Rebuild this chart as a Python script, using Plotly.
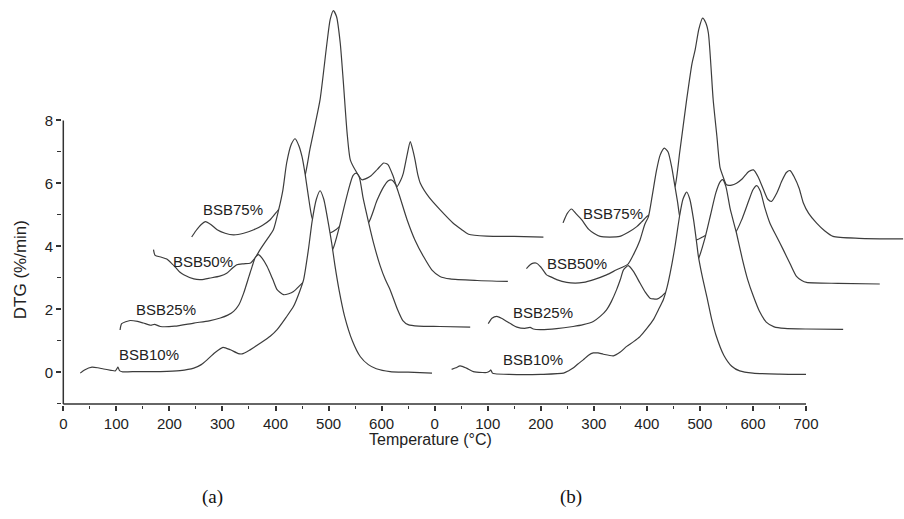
import plotly.graph_objects as go

# ---------------- data (temperature read on the panel axis, DTG in %/min) ----------------
# panel (a)
a10_t = [32, 40, 54, 65, 76, 90, 98, 101, 103, 106, 112, 140, 183, 220, 246, 260, 271, 285, 301, 315,
         330, 337, 350, 371, 390, 403, 420, 434, 445, 453, 462, 469, 477, 484, 491, 500, 506, 512, 520,
         530, 545, 560, 575, 590, 616, 650, 695]
a10_y = [-0.02, 0.08, 0.17, 0.15, 0.11, 0.07, 0.05, 0.12, 0.17, 0.06, 0.02, 0.03, 0.03, 0.06, 0.14, 0.25,
         0.4, 0.62, 0.8, 0.72, 0.6, 0.59, 0.7, 0.93, 1.15, 1.36, 1.75, 2.1, 2.55, 2.95, 3.9, 4.8, 5.5, 5.77,
         5.5, 4.7, 4.1, 3.4, 2.6, 1.8, 1.0, 0.5, 0.25, 0.12, 0.03, 0.01, -0.02]

a25_t = [107, 110, 126, 140, 151, 165, 172, 183, 210, 246, 275, 296, 310, 321, 331, 340, 350, 356, 362,
         368, 375, 384, 395, 403, 415, 425, 434, 447, 460, 475, 490, 500, 509, 520, 530, 540, 546, 552,
         558, 565, 575, 585, 597, 607, 616, 630, 640, 650, 670, 710, 767]
a25_y = [1.35, 1.55, 1.65, 1.62, 1.57, 1.5, 1.53, 1.46, 1.47, 1.57, 1.64, 1.73, 1.82, 1.94, 2.15, 2.52,
         3.05, 3.37, 3.65, 3.74, 3.62, 3.37, 2.95, 2.63, 2.47, 2.5, 2.57, 2.78, 3.0, 3.25, 3.5, 3.7, 3.95,
         4.6, 5.3, 5.95, 6.25, 6.33, 6.2, 5.55, 4.8, 4.1, 3.4, 2.95, 2.63, 2.0, 1.65, 1.52, 1.47, 1.46, 1.44]

a50_t = [170, 173, 185, 195, 205, 211, 220, 227, 246, 260, 277, 295, 308, 318, 327, 340, 352, 362, 371,
         385, 396, 406, 414, 421, 430, 437, 444, 450, 456, 462, 469, 480, 490, 503, 515, 525, 540, 555,
         575, 591, 604, 612, 619, 626, 633, 648, 663, 679, 695, 710, 729, 780, 838]
a50_y = [3.9, 3.72, 3.66, 3.6, 3.45, 3.35, 3.18, 3.1, 2.97, 2.95, 3.0, 3.06, 3.15, 3.3, 3.42, 3.45, 3.47,
         3.65, 3.9, 4.25, 4.53, 5.17, 5.8, 6.65, 7.25, 7.42, 7.2, 6.85, 6.28, 5.59, 4.9, 4.55, 4.4, 4.43,
         4.55, 4.69, 4.65, 4.6, 4.75, 5.45, 5.9, 6.08, 6.11, 5.98, 5.65, 4.85, 4.2, 3.68, 3.25, 3.05, 2.97,
         2.92, 2.89]

a75_t = [242, 250, 260, 268, 278, 290, 305, 321, 340, 359, 375, 390, 406, 420, 440, 456, 465, 475, 484,
         497, 503, 509, 515, 522, 528, 535, 541, 552, 563, 578, 592, 604, 612, 622, 629, 636, 641, 648,
         654, 659, 663, 668, 673, 690, 710, 735, 750, 764, 798, 850, 905]
a75_y = [4.3, 4.5, 4.7, 4.79, 4.7, 4.53, 4.42, 4.37, 4.42, 4.53, 4.67, 4.85, 5.17, 5.35, 5.6, 6.28, 7.1,
         7.9, 8.66, 10.46, 11.2, 11.49, 11.3, 10.46, 9.19, 7.6, 6.75, 6.38, 6.12, 6.22, 6.45, 6.65, 6.6,
         6.22, 5.9, 6.1, 6.33, 6.9, 7.33, 7.05, 6.75, 6.3, 6.01, 5.55, 5.17, 4.74, 4.55, 4.39, 4.33, 4.32,
         4.3]

# panel (b)
b10_t = [32, 40, 48, 60, 73, 90, 98, 104, 106, 109, 114, 140, 167, 200, 243, 252, 261, 270, 280, 290,
         299, 308, 318, 337, 350, 362, 375, 387, 400, 412, 422, 431, 438, 444, 453, 462, 468, 475, 481,
         488, 494, 497, 505, 513, 522, 530, 545, 560, 575, 600, 650, 700]
b10_y = [0.1, 0.15, 0.21, 0.14, 0.03, 0.0, 0.0, 0.05, 0.08, -0.02, -0.04, -0.06, -0.07, -0.06, -0.02,
         0.05, 0.14, 0.27, 0.4, 0.55, 0.62, 0.62, 0.58, 0.53, 0.65, 0.83, 0.98, 1.14, 1.4, 1.67, 2.0, 2.31,
         2.7, 3.16, 4.0, 5.0, 5.5, 5.73, 5.5, 4.85, 4.1, 3.7, 3.0, 2.41, 1.7, 1.2, 0.55, 0.2, 0.05, -0.02,
         -0.05, -0.06]

b25_t = [101, 108, 117, 126, 136, 146, 155, 170, 180, 186, 199, 230, 261, 280, 299, 312, 324, 333, 343,
         350, 356, 365, 375, 387, 397, 406, 419, 428, 434, 450, 470, 485, 497, 510, 520, 530, 538, 543,
         549, 557, 569, 580, 590, 601, 612, 625, 640, 660, 700, 770]
b25_y = [1.55, 1.72, 1.78, 1.72, 1.62, 1.52, 1.44, 1.4, 1.43, 1.38, 1.36, 1.39, 1.46, 1.52, 1.62, 1.78,
         1.99, 2.25, 2.63, 2.95, 3.26, 3.39, 3.2, 2.84, 2.55, 2.36, 2.33, 2.42, 2.52, 2.75, 3.05, 3.3, 3.6,
         4.3, 5.0, 5.7, 6.05, 6.12, 5.9, 5.2, 4.42, 3.6, 2.95, 2.41, 1.95, 1.6, 1.45, 1.4, 1.38, 1.37]

b50_t = [173, 180, 186, 192, 200, 211, 217, 230, 249, 265, 280, 300, 324, 343, 355, 365, 375, 387, 396,
         403, 410, 418, 425, 433, 440, 447, 453, 458, 462, 470, 480, 494, 505, 519, 535, 550, 566, 580,
         592, 600, 607, 614, 622, 632, 645, 657, 670, 682, 692, 701, 760, 839]
b50_y = [3.3, 3.42, 3.47, 3.47, 3.35, 3.1, 3.05, 2.95, 2.86, 2.84, 2.86, 2.95, 3.1, 3.26, 3.35, 3.45,
         3.75, 4.2, 4.7, 4.95, 5.6, 6.4, 6.9, 7.12, 7.0, 6.5, 5.9, 5.4, 4.95, 4.6, 4.35, 4.21, 4.3, 4.42,
         4.4, 4.35, 4.42, 4.9, 5.45, 5.8, 5.93, 5.75, 5.25, 4.74, 4.3, 3.9, 3.45, 3.05, 2.92, 2.86, 2.83,
         2.81]

b75_t = [242, 250, 258, 266, 277, 290, 300, 312, 330, 349, 365, 381, 390, 400, 420, 440, 453, 462, 475,
         485, 491, 498, 505, 511, 516, 525, 532, 538, 544, 550, 560, 569, 580, 592, 601, 610, 620, 628,
         635, 645, 655, 663, 670, 678, 687, 695, 705, 720, 735, 751, 800, 883]
b75_y = [4.75, 5.05, 5.19, 5.05, 4.85, 4.55, 4.42, 4.32, 4.3, 4.32, 4.45, 4.63, 4.78, 4.95, 5.2, 5.5,
         5.9, 7.0, 8.66, 9.8, 10.24, 10.9, 11.25, 11.1, 10.77, 8.66, 7.5, 6.5, 6.2, 5.96, 5.95, 6.01, 6.15,
         6.38, 6.43, 6.2, 5.8, 5.5, 5.43, 5.7, 6.1, 6.35, 6.41, 6.2, 5.85, 5.38, 5.05, 4.74, 4.5, 4.32,
         4.26, 4.24]

series_names = ["BSB10%", "BSB25%", "BSB50%", "BSB75%"]

# shared temperature axis: panel (a) then panel (b)
tick_vals = list(range(0, 1401, 100))
tick_text = ["0", "100", "200", "300", "400", "500", "600",
             "0", "100", "200", "300", "400", "500", "600", "700"]

# ---------------- layout constants ----------------
PANEL_B_SHIFT = 700
LINE_COLOR = "#3c3c3c"
TEXT_COLOR = "#222222"
FONT = "Liberation Sans, Arial, sans-serif"
SERIF = "Liberation Serif, Times New Roman, serif"

fig = go.Figure()

panels = [
    (0, [(a75_t, a75_y), (a50_t, a50_y), (a25_t, a25_y), (a10_t, a10_y)]),
    (PANEL_B_SHIFT, [(b75_t, b75_y), (b50_t, b50_y), (b25_t, b25_y), (b10_t, b10_y)]),
]

# rear curves first; each one is backed by white so the curves in front hide it
for shift, curves in panels:
    for t, y in curves:
        fig.add_trace(go.Scatter(
            x=[v + shift for v in t], y=y, mode="lines",
            line=dict(color=LINE_COLOR, width=1.2, shape="spline", smoothing=0.6),
            fill="tozeroy", fillcolor="white",
            hoverinfo="skip", showlegend=False,
        ))

# series labels
label_pos = {
    0: [(162, 0.56), (194, 1.99), (264, 3.52), (320, 5.17)],
    PANEL_B_SHIFT: [(186, 0.40), (205, 1.90), (268, 3.47), (337, 5.06)],
}
for shift, spots in label_pos.items():
    for name, (lx, ly) in zip(series_names, spots):
        fig.add_annotation(x=lx + shift, y=ly, xref="x", yref="y", text=name,
                           showarrow=False, font=dict(family=FONT, size=15, color=TEXT_COLOR))

# axis lines (y line stops at 8, x line stops at 700 of panel b)
fig.add_shape(type="line", xref="x", yref="y", x0=0, x1=0, y0=-1, y1=8,
              line=dict(color="#333333", width=1.5))
fig.add_shape(type="line", xref="x", yref="y", x0=0, x1=tick_vals[-1], y0=-1, y1=-1,
              line=dict(color="#333333", width=1.5))

# axis titles and panel captions
fig.add_annotation(x=0.438, y=-0.084, xref="paper", yref="paper", xanchor="center",
                   yanchor="middle", text="Temperature (°C)", showarrow=False,
                   font=dict(family=FONT, size=16, color=TEXT_COLOR))
fig.add_annotation(x=-0.050, y=0.335, xref="paper", yref="paper", xanchor="center",
                   yanchor="middle", text="DTG (%/min)", textangle=-90, showarrow=False,
                   font=dict(family=FONT, size=17, color=TEXT_COLOR))
fig.add_annotation(x=0.179, y=-0.227, xref="paper", yref="paper", xanchor="center",
                   yanchor="middle", text="(a)", showarrow=False,
                   font=dict(family=SERIF, size=19, color="#111111"))
fig.add_annotation(x=0.604, y=-0.227, xref="paper", yref="paper", xanchor="center",
                   yanchor="middle", text="(b)", showarrow=False,
                   font=dict(family=SERIF, size=19, color="#111111"))

fig.update_layout(
    width=904, height=519,
    margin=dict(l=62, r=0, t=0, b=114),
    paper_bgcolor="white", plot_bgcolor="white",
    showlegend=False,
    xaxis=dict(
        range=[-2.45, 1584.7], showgrid=False, zeroline=False, showline=False,
        tickmode="array", tickvals=tick_vals, ticktext=tick_text,
        ticks="outside", ticklen=5, tickwidth=1.5, tickcolor="#333333",
        minor=dict(tickmode="array", tickvals=list(range(50, 1400, 100)), ticks="outside",
                   ticklen=3, tickwidth=1.2, tickcolor="#333333"),
        tickfont=dict(family=FONT, size=15, color=TEXT_COLOR),
    ),
    yaxis=dict(
        range=[-1.032, 11.825], showgrid=False, zeroline=False, showline=False,
        tickmode="array", tickvals=[0, 2, 4, 6, 8],
        ticks="outside", ticklen=5, tickwidth=1.5, tickcolor="#333333",
        minor=dict(tickmode="array", tickvals=[-1, 1, 3, 5, 7], ticks="outside",
                   ticklen=4, tickwidth=1.2, tickcolor="#333333"),
        tickfont=dict(family=FONT, size=15, color=TEXT_COLOR),
    ),
)

fig.write_html("out.html")
